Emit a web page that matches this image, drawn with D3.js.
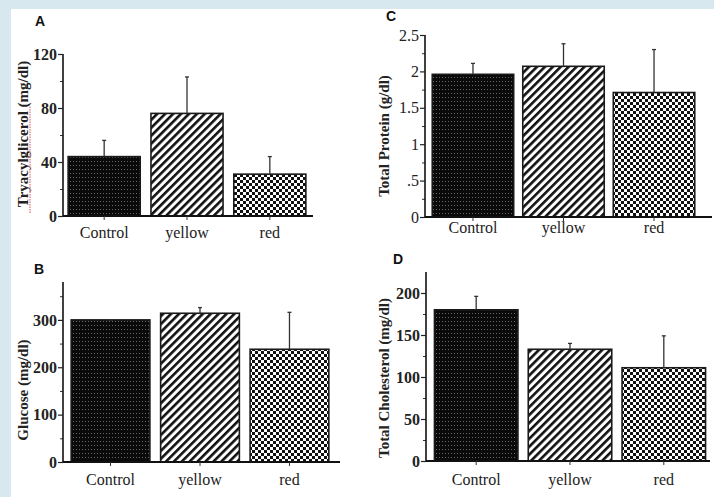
<!DOCTYPE html>
<html>
<head>
<meta charset="utf-8">
<script src="https://cdn.jsdelivr.net/npm/d3@7"></script>
<style>
  html, body { margin: 0; padding: 0; background: #d7e9ef; }
  svg { display: block; }
</style>
</head>
<body>
<svg id="chart" width="714" height="497"></svg>
<script>
// ---------------- data ----------------
const categories = ["Control", "yellow", "red"];

const trigMean = [44, 76, 31];
const trigErr = [12, 27, 13];
const trigTicks = [0, 40, 80, 120];
const trigMinor = [20, 60, 100];

const glucoseMean = [300, 314, 238];
const glucoseErr = [0, 12, 78];
const glucoseTicks = [0, 100, 200, 300];
const glucoseMinor = [50, 150, 250, 350];

const proteinMean = [1.96, 2.07, 1.71];
const proteinErr = [0.15, 0.31, 0.59];
const proteinTicks = [0, 0.5, 1, 1.5, 2, 2.5];
const proteinTickLabels = ["0", ".5", "1", "1.5", "2", "2.5"];
const proteinMinor = [0.25, 0.75, 1.25, 1.75, 2.25];

const cholMean = [180, 133, 111];
const cholErr = [16, 7, 38];
const cholTicks = [0, 50, 100, 150, 200];
const cholMinor = [25, 75, 125, 175];

// ---------------- drawing ----------------
const svg = d3.select("#chart");
svg.append("rect").attr("x", 11).attr("y", 9).attr("width", 714 - 11).attr("height", 497 - 9).attr("fill", "#ffffff");

const defs = svg.append("defs");
// Control: black with faint dot grid
const pc = defs.append("pattern").attr("id", "pControl").attr("patternUnits", "userSpaceOnUse")
  .attr("width", 3).attr("height", 4);
pc.append("rect").attr("width", 3).attr("height", 4).attr("fill", "#0a0a0a");
pc.append("rect").attr("x", 1).attr("y", 1).attr("width", 1).attr("height", 1).attr("fill", "#6a6a6a");
// yellow: diagonal hatch
const py = defs.append("pattern").attr("id", "pYellow").attr("patternUnits", "userSpaceOnUse")
  .attr("width", 5.6).attr("height", 10).attr("patternTransform", "rotate(45)");
py.append("rect").attr("width", 5.6).attr("height", 10).attr("fill", "#ffffff");
py.append("rect").attr("width", 2.6).attr("height", 10).attr("fill", "#111");
// red: checkerboard
const pr = defs.append("pattern").attr("id", "pRed").attr("patternUnits", "userSpaceOnUse")
  .attr("width", 6).attr("height", 6);
pr.append("rect").attr("width", 6).attr("height", 6).attr("fill", "#ffffff");
pr.append("rect").attr("x", 0).attr("y", 0).attr("width", 3).attr("height", 3).attr("fill", "#111");
pr.append("rect").attr("x", 3).attr("y", 3).attr("width", 3).attr("height", 3).attr("fill", "#111");

const fills = { "Control": "url(#pControl)", "yellow": "url(#pYellow)", "red": "url(#pRed)" };

const panels = [
  { letter: "A", lx: 35, ly: 26, means: trigMean, errs: trigErr, domain: [0, 120], yr: [216, 54],
    ticks: trigTicks, labels: null, minor: trigMinor, ax: 63, xr: [64, 310], xEnd: 313, pi: 0.13, po: 0.05,
    bold: true, title: "Tryacylglicerol (mg/dl)", tx: 23, ty: 134, labY: 238, spell: true },
  { letter: "B", lx: 34, ly: 274, means: glucoseMean, errs: glucoseErr, domain: [0, 380], yr: [462, 282],
    ticks: glucoseTicks, labels: null, minor: glucoseMinor, ax: 63, xr: [64, 336], xEnd: 340, pi: 0.12, po: 0.08,
    bold: true, title: "Glucose (mg/dl)", tx: 23, ty: 390, labY: 485 },
  { letter: "C", lx: 386, ly: 21, means: proteinMean, errs: proteinErr, domain: [0, 2.5], yr: [217, 35],
    ticks: proteinTicks, labels: proteinTickLabels, minor: proteinMinor, ax: 425, xr: [425, 702], xEnd: 712, pi: 0.1, po: 0.08,
    bold: false, title: "Total Protein (g/dl)", tx: 384, ty: 136, labY: 233 },
  { letter: "D", lx: 393, ly: 264, means: cholMean, errs: cholErr, domain: [0, 225], yr: [461, 272],
    ticks: cholTicks, labels: null, minor: cholMinor, ax: 426, xr: [426, 714], xEnd: 710, pi: 0.11, po: 0.09,
    bold: true, title: "Total Cholesterol (mg/dl)", tx: 384, ty: 378, labY: 485 }
];

panels.forEach(p => {
  const g = svg.append("g");
  const y = d3.scaleLinear().domain(p.domain).range(p.yr);
  const x = d3.scaleBand().domain(categories).range(p.xr).paddingInner(p.pi).paddingOuter(p.po);
  const base = y(0);

  // panel letter
  g.append("text").attr("x", p.lx).attr("y", p.ly).text(p.letter)
    .attr("font-family", "Liberation Sans, Arial, sans-serif").attr("font-weight", "bold")
    .attr("font-size", 14).attr("fill", "#111");

  // bars
  g.selectAll("rect.bar").data(categories).join("rect")
    .attr("class", "bar")
    .attr("x", d => x(d))
    .attr("y", (d, i) => y(p.means[i]))
    .attr("width", x.bandwidth())
    .attr("height", (d, i) => base - y(p.means[i]))
    .attr("fill", d => fills[d])
    .attr("stroke", "#1a1a1a").attr("stroke-width", 1.6);

  // error bars
  const eb = g.selectAll("g.err").data(categories).join("g").attr("class", "err");
  eb.append("line")
    .attr("x1", d => x(d) + x.bandwidth() / 2).attr("x2", d => x(d) + x.bandwidth() / 2)
    .attr("y1", (d, i) => y(p.means[i])).attr("y2", (d, i) => y(p.means[i] + p.errs[i]))
    .attr("stroke", "#333").attr("stroke-width", 1.3);
  eb.append("line")
    .attr("x1", d => x(d) + x.bandwidth() / 2 - 2).attr("x2", d => x(d) + x.bandwidth() / 2 + 2)
    .attr("y1", (d, i) => y(p.means[i] + p.errs[i])).attr("y2", (d, i) => y(p.means[i] + p.errs[i]))
    .attr("stroke", "#333").attr("stroke-width", 1.3);

  // y axis: minor ticks
  const minorAxis = d3.axisLeft(y).tickValues(p.minor).tickSize(3).tickFormat("");
  const ma = g.append("g").attr("transform", `translate(${p.ax},0)`).call(minorAxis);
  ma.select(".domain").remove();
  ma.selectAll("line").attr("stroke", "#333").attr("stroke-width", 1);

  // y axis: major ticks + labels
  const majorAxis = d3.axisLeft(y).tickValues(p.ticks).tickSize(5).tickPadding(1)
    .tickFormat((d, i) => p.labels ? p.labels[i] : d3.format("d")(d));
  const ya = g.append("g").attr("transform", `translate(${p.ax},0)`).call(majorAxis);
  ya.select(".domain").attr("d", `M0,${p.yr[1]}V${base}`).attr("stroke", "#111").attr("stroke-width", 1.6);
  ya.selectAll("line").attr("stroke", "#222").attr("stroke-width", 1.2);
  ya.selectAll("text").attr("font-family", "Liberation Serif, Times New Roman, serif")
    .attr("font-size", 16).attr("font-weight", p.bold ? "bold" : "normal").attr("fill", "#222");

  // x axis baseline with category ticks
  const xa = d3.axisBottom(x).tickSize(4).tickSizeOuter(0).tickPadding(8);
  const xg = g.append("g").attr("transform", `translate(0,${base})`).call(xa);
  xg.select(".domain").attr("d", `M${p.ax},0H${p.xEnd}`).attr("stroke", "#111").attr("stroke-width", 2);
  xg.selectAll("line").attr("stroke", "#333").attr("stroke-width", 1);
  xg.selectAll("text").attr("font-family", "Liberation Serif, Times New Roman, serif")
    .attr("font-size", 16).attr("fill", "#222").attr("y", null).attr("dy", null)
    .attr("transform", `translate(0,${p.labY - base})`);

  // y title
  g.append("text")
    .attr("transform", `translate(${p.tx},${p.ty}) rotate(-90)`)
    .attr("text-anchor", "middle").attr("dy", "0.35em")
    .attr("font-family", "Liberation Serif, Times New Roman, serif")
    .attr("font-weight", "bold").attr("font-size", 15).attr("fill", "#222")
    .text(p.title);

  if (p.spell) {
    // red spell-check underline seen in the reference
    g.append("line").attr("x1", p.tx + 7).attr("x2", p.tx + 7)
      .attr("y1", 213).attr("y2", 106)
      .attr("stroke", "#ef8a8a").attr("stroke-width", 1.5).attr("stroke-dasharray", "1.5,1");
  }
});
</script>
</body>
</html>
